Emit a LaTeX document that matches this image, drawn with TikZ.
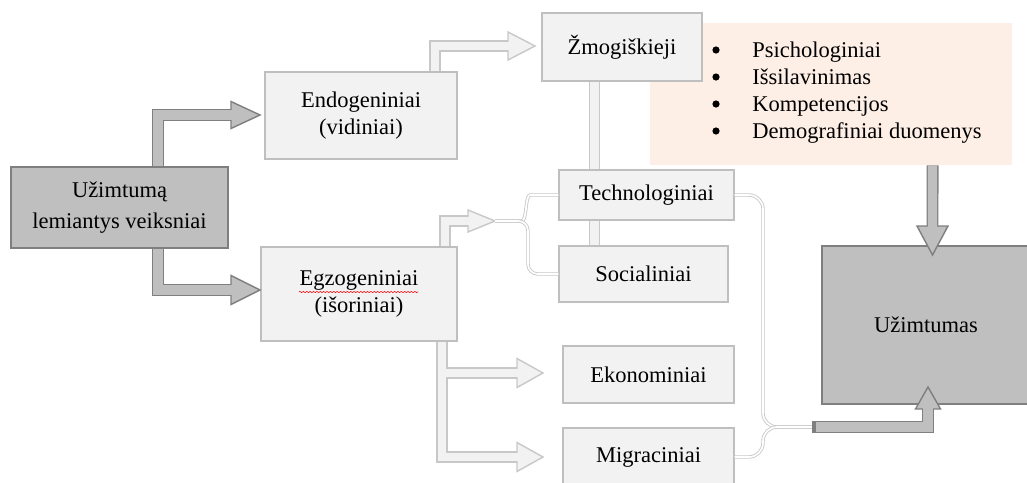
\documentclass[tikz,border=0pt]{standalone}
\usepackage{fontspec}
\setmainfont{Liberation Serif}
\usetikzlibrary{decorations.pathmorphing}

\definecolor{boxfill}{HTML}{F2F2F2}
\definecolor{boxline}{HTML}{BFBFBF}
\definecolor{darkfill}{HTML}{BFBFBF}
\definecolor{darkline}{HTML}{7F7F7F}
\definecolor{listfill}{HTML}{FDEEE6}
\definecolor{arrline}{HTML}{C8C8C8}

\tikzset{
  box/.style={draw=boxline, fill=boxfill, line width=1pt, align=center, inner sep=0pt},
  darkbox/.style={draw=darkline, fill=darkfill, line width=1pt, align=center, inner sep=0pt},
  lshaft/.style={draw=arrline, line width=8pt, line join=miter},
  lcore/.style={draw=boxfill, line width=6pt, line join=miter},
  lhead/.style={draw=arrline, fill=boxfill, line width=1pt, line join=miter},
  dshaft/.style={draw=darkline, line width=8.5pt, line join=miter},
  dcore/.style={draw=darkfill, line width=6.5pt, line join=miter},
  dhead/.style={draw=darkline, fill=darkfill, line width=1pt, line join=miter},
  conn/.style={draw=arrline, double=white, line width=0.6pt, double distance=1.2pt, rounded corners=7pt},
}

\begin{document}
\begin{tikzpicture}[x=0.025cm, y=-0.025cm, font=\fontsize{16}{19.2}\selectfont]
\useasboundingbox (0,0) rectangle (1027,482);

% list of human factors (behind the boxes)
\node[fill=listfill, inner sep=0pt, minimum width=9.05cm, minimum height=3.55cm] (list) at (831,94) {};
\foreach \t [count=\i] in {Psichologiniai, Išsilavinimas, Kompetencijos, Demografiniai duomenys} {
  \fill (716,23+27*\i) circle [radius=3.6];
  \node[anchor=base west, inner sep=0pt] (item\i) at (752,30+27*\i) {\t};
}

% boxes
\node[darkbox, minimum width=5.425cm, minimum height=2.025cm, font=\fontsize{16}{22}\selectfont] (factors) at (119.5,207.5) {Užimtumą\\lemiantys veiksniai};
\node[box, minimum width=4.8cm, minimum height=2.175cm] (endo) at (361,115.5) {Endogeniniai\\(vidiniai)};
\node[box, minimum width=4.9cm, minimum height=2.35cm] (egzo) at (359,294) {Egzogeniniai\\(išoriniai)};
\node[box, minimum width=4cm, minimum height=1.7cm] (human) at (622,47) {Žmogiškieji};
\node[box, minimum width=4.375cm, minimum height=1.25cm] (tech) at (646.5,195) {Technologiniai};
\node[box, minimum width=4.225cm, minimum height=1.4cm] (social) at (643.5,274) {Socialiniai};
\node[box, minimum width=4.275cm, minimum height=1.425cm] (econ) at (648.5,374.5) {Ekonominiai};
\node[box, minimum width=4.275cm, minimum height=1.45cm] (migr) at (648.5,457) {Migraciniai};
\node[darkbox, minimum width=5.2cm, minimum height=3.95cm] (employ) at (926,325) {Užimtumas};

% spelling mark
\draw[red, line width=0.4pt, decorate, decoration={snake, amplitude=0.45pt, segment length=2.4pt}] (299,292) -- (418,292);

% dark arrows from the main box
\draw[dshaft] ([xshift=0.9625cm]factors.north) |- (231,115);
\filldraw[dhead] (260,115) -- ++(-29,-13.5) -- ++(0,27) -- cycle;
\draw[dcore] ([xshift=0.9625cm]factors.north) |- (233,115);

\draw[dshaft] ([xshift=0.9625cm]factors.south) |- (231,290);
\filldraw[dhead] (260,290) -- ++(-29,-14.5) -- ++(0,29) -- cycle;
\draw[dcore] ([xshift=0.9625cm]factors.south) |- (233,290);

% light arrows
\draw[lshaft] ([xshift=1.85cm]endo.north) |- (508,46);
\filldraw[lhead] (535,46) -- ++(-27,-14) -- ++(0,28) -- cycle;
\draw[lcore] ([xshift=1.85cm]endo.north) |- (510,46);

\coordinate (bar) at ([xshift=-0.6875cm]human.south);
\draw[lshaft] (bar) -- (bar |- tech.north);
\draw[lshaft] (bar |- tech.south) -- (bar |- social.north);
\draw[lcore] (bar) -- (bar |- tech.north);
\draw[lcore] (bar |- tech.south) -- (bar |- social.north);

\draw[lshaft] ([xshift=2.15cm]egzo.north) |- (468,221);
\filldraw[lhead] (495,221) -- ++(-27,-11) -- ++(0,22) -- cycle;
\draw[lcore] ([xshift=2.15cm]egzo.north) |- (470,221);
\coordinate (egzotip) at (495,221);

\draw[lshaft] ([xshift=2.075cm]egzo.south) |- (517,457);
\draw[lshaft] (442,373) -- (517,373);
\filldraw[lhead] (543,373) -- ++(-26,-14.5) -- ++(0,29) -- cycle;
\filldraw[lhead] (543,457) -- ++(-26,-14.5) -- ++(0,29) -- cycle;
\draw[lcore] ([xshift=2.075cm]egzo.south) |- (519,457);
\draw[lcore] (442,373) -- (519,373);

% thin connectors
\coordinate (join) at (814,427);
\draw[conn] (egzotip) -- (512,221) to[out=0,in=180] (540,195) -- (tech.west);
\draw[conn] (egzotip) -- (528,221) -- (528,274) -- (social.west);
\draw[conn, rounded corners=10pt] (tech.east) -- (763,195) -- (763,427) -- (join);
\draw[conn, rounded corners=10pt] (migr.east) -- (763,457) -- (763,427) -- (join);

% dark arrows into the result
\draw[dshaft] ([xshift=2.5375cm]list.south) -- (932.5,226);
\filldraw[dhead] (932.5,255) -- ++(-15.5,-29) -- ++(31,0) -- cycle;
\draw[dcore] ([xshift=2.5375cm]list.south) -- (932.5,228);

\draw[dshaft] ([xshift=-1.4pt]join) -| (928,409);
\filldraw[dhead] (928,387) -- ++(-12.5,22) -- ++(25,0) -- cycle;
\draw[dcore] ([xshift=1.4pt]join) -| (928,407);
\end{tikzpicture}
\end{document}
